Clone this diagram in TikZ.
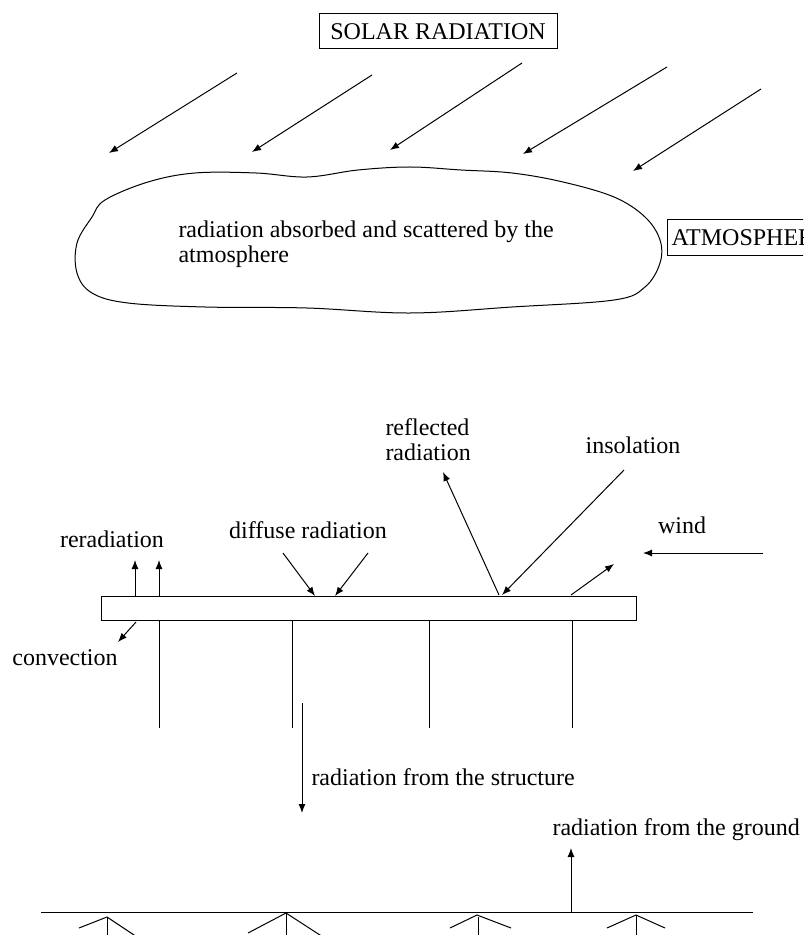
\documentclass[tikz,border=0pt]{standalone}
\usepackage{fontspec}
\setmainfont{Liberation Serif}
\usetikzlibrary{arrows.meta}
\begin{document}
\begin{tikzpicture}[x=0.5pt,y=-0.5pt,line width=0.5pt,
    >={Latex[length=4.5pt,width=3.5pt]},
    lbl/.style={inner sep=0pt,font=\fontsize{12}{12.5}\selectfont},
    boxed/.style={draw,inner sep=0pt,font=\fontsize{12}{12.5}\selectfont}]
    \clip (0,0) rectangle (803,935);
    % sun and atmosphere
    \node[boxed,minimum width=119pt,minimum height=17.5pt] (solar) at (438,31.5) {SOLAR RADIATION};
    \draw[->] (237,73) -- (109,153);
    \draw[->] (372,75) -- (252,152);
    \draw[->] (522,63) -- (390,150);
    \draw[->] (667,67) -- (523,154);
    \draw[->] (761,89) -- (633,171);
    \draw plot[smooth cycle,tension=0.6] coordinates {(105,200) (148,182) (195,173) (256,173)
        (307,177) (358,170) (410,167) (461,170) (512,173) (563,182) (614,197) (645,217)
        (660,240) (660,263) (645,287) (614,300) (512,307) (410,313) (307,308) (205,307)
        (128,303) (92,293) (77,273) (77,243) (92,217)};
    \node[lbl,anchor=west,align=left] (absorbed) at (178,244) {radiation absorbed and scattered by the\\atmosphere};
    \node[boxed,anchor=west,minimum height=18pt,inner xsep=2pt] (atmos) at (667,238) {ATMOSPHERE};
    % structure
    \draw (101,596) rectangle (636,620);
    \foreach \x in {159,292,429,572}
        \draw (\x,620) -- (\x,728);
    \draw[->] (135,596) -- (135,560);
    \draw[->] (159,596) -- (159,560);
    \node[lbl] (rerad) at (112,539) {reradiation};
    \draw[->] (136,622) -- (118,642);
    \node[lbl] (conv) at (65,658) {convection};
    \draw[->] (283,553) -- (315,596);
    \draw[->] (368,553) -- (335,596);
    \node[lbl] (diffuse) at (308,530) {diffuse radiation};
    \draw[->] (499,595) -- (443,472);
    \node[lbl,anchor=west,align=left] (reflect) at (385,440) {reflected\\radiation};
    \draw[->] (624,470) -- (502,595);
    \node[lbl] (insol) at (633,445) {insolation};
    \draw[->] (763,553) -- (643,553);
    \node[lbl] (wind) at (682,525) {wind};
    \draw[->] (571,595) -- (614,564);
    \draw[->] (302,703) -- (302,813);
    \node[lbl,anchor=west] (fromstruct) at (311,777) {radiation from the structure};
    % ground
    \draw (41,912) -- (753,912);
    \draw[->] (571,912) -- (571,848);
    \node[lbl,anchor=west] (fromground) at (552,830) {radiation from the ground};
    \draw (79,928) -- (107,917) -- (137,937);
    \draw (107,917) -- (107,940);
    \draw (248,933) -- (286,913) -- (323,937);
    \draw (286,913) -- (286,940);
    \draw (450,928) -- (477,915) -- (511,928);
    \draw (478,917) -- (478,940);
    \draw (607,928) -- (636,915) -- (665,928);
    \draw (636,915) -- (636,940);
\end{tikzpicture}
\end{document}
